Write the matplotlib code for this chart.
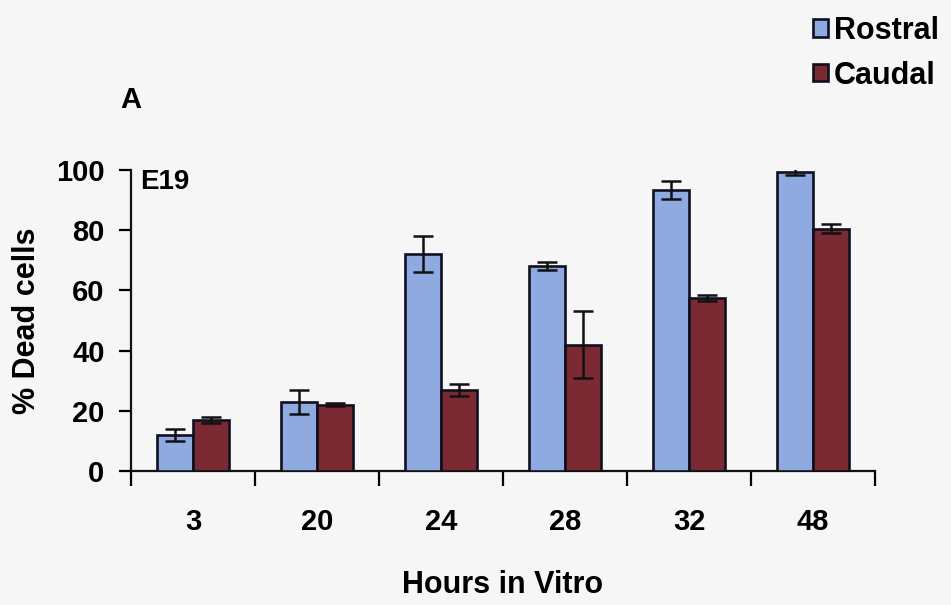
import matplotlib as mpl
import matplotlib.pyplot as plt
import numpy as np

# Dados
horas = ['3', '20', '24', '28', '32', '48']
rostral = [12, 23, 72, 68, 93.5, 99.5]
rostral_err = [2, 4, 6, 1.3, 3, 1]
caudal = [17, 22, 27, 42, 57.5, 80.5]
caudal_err = [1, 0.5, 2, 11, 1, 1.5]

azul = '#8eaae0'
vinho = '#7b2a33'
fundo = '#f6f6f6'

plt.rcParams['font.family'] = ['Liberation Sans', 'DejaVu Sans']
plt.rcParams['font.weight'] = 'bold'

fig = plt.figure(figsize=(9.51, 6.05), dpi=100, facecolor=fundo)
ax = fig.add_axes([131/951, 1 - 471/605, 744/951, 301/605])
ax.set_facecolor(fundo)

x = np.arange(len(horas))
w = 0.29
err_kw = dict(ecolor='#111111', elinewidth=1.8, capsize=7, capthick=1.8, zorder=5)
ax.bar(x - w/2, rostral, w, yerr=rostral_err, color=azul, edgecolor='#101020',
       linewidth=1.9, error_kw=err_kw, label='Rostral', zorder=3)
ax.bar(x + w/2, caudal, w, yerr=caudal_err, color=vinho, edgecolor='#101020',
       linewidth=1.9, error_kw=err_kw, label='Caudal', zorder=3)

# Eixos
ax.set_xlim(-0.5, 5.5)
ax.set_ylim(0, 100)
ax.spines['top'].set_visible(False)
ax.spines['right'].set_visible(False)
for s in ['left', 'bottom']:
    ax.spines[s].set_linewidth(1.6)
    ax.spines[s].set_color('#111111')

ax.set_yticks([0, 20, 40, 60, 80, 100])
ax.tick_params(axis='y', length=9, width=1.6, pad=10, labelsize=21)
ax.set_xticks(np.arange(-0.5, 6, 1))
ax.set_xticklabels([])
ax.tick_params(axis='x', which='major', length=11, width=1.6)
ax.set_xticks(x, minor=True)
ax.set_xticklabels(horas, minor=True)
ax.tick_params(axis='x', which='minor', length=0, pad=27, labelsize=21)

ax.set_xlabel('Hours in Vitro', fontsize=22, fontweight='bold', labelpad=24)
ax.set_ylabel('% Dead cells', fontsize=22, fontweight='bold', labelpad=10)

# Textos
fig.text(120/951, 1 - 100/605, 'A', fontsize=21, fontweight='bold', va='center')
ax.text(0.012, 0.96, 'E19', transform=ax.transAxes, fontsize=20,
        fontweight='bold', va='center')

# Legenda
fig.legend(loc='upper right', bbox_to_anchor=(1.004, 1.0), frameon=False,
           fontsize=22, handlelength=0.5, handleheight=0.5, handletextpad=0.2,
           labelspacing=0.48, borderaxespad=0.12)

fig.savefig('out.png', dpi=100, facecolor=fundo)
